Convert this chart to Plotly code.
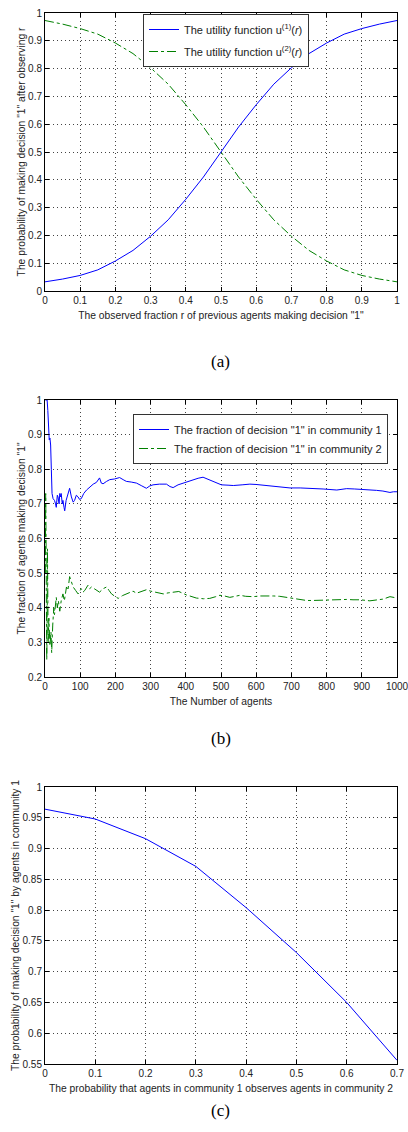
import plotly.graph_objects as go

W, H = 408, 1132

# (a) utility functions
r_vals = [0.0, 0.05, 0.1, 0.15, 0.2, 0.25, 0.3, 0.35, 0.4, 0.45, 0.5,
          0.55, 0.6, 0.65, 0.7, 0.75, 0.8, 0.85, 0.9, 0.95, 1.0]
u1_vals = [0.033, 0.043, 0.056, 0.076, 0.108, 0.146, 0.197, 0.256, 0.33, 0.41, 0.5,
           0.59, 0.67, 0.744, 0.803, 0.854, 0.892, 0.924, 0.944, 0.96, 0.973]
u2_vals = [0.973, 0.96, 0.944, 0.924, 0.892, 0.854, 0.803, 0.744, 0.67, 0.59, 0.5,
           0.41, 0.33, 0.256, 0.197, 0.146, 0.108, 0.076, 0.056, 0.043, 0.033]
ticks_a_x = [0, 0.1, 0.2, 0.3, 0.4, 0.5, 0.6, 0.7, 0.8, 0.9, 1]
ticks_a_y = [0, 0.1, 0.2, 0.3, 0.4, 0.5, 0.6, 0.7, 0.8, 0.9, 1]

# (b) running fraction of decision "1"
n1_agents = [1, 3, 6, 8, 10, 12, 14, 16, 18, 20, 23, 27, 30, 32, 35, 37, 40, 42, 44, 46,
             49, 51, 54, 56, 60, 65, 70, 75, 80, 84, 89, 94, 98, 103, 110, 118, 128,
             137, 146, 155, 160, 165, 175, 184, 198, 212, 222, 231, 245, 260, 275,
             288, 298, 307, 325, 345, 355, 364, 378, 392, 407, 421, 435, 449, 465,
             478, 490, 501, 520, 535, 560, 582, 600, 620, 640, 658, 680, 696, 725,
             753, 790, 829, 845, 857, 880, 904, 925, 942, 960, 980, 990, 1000]
frac1_vals = [1.0, 1.0, 1.0, 0.97, 0.9, 0.885, 0.89, 0.87, 0.8, 0.73, 0.715, 0.71, 0.7,
              0.69, 0.725, 0.72, 0.7, 0.73, 0.72, 0.73, 0.7, 0.71, 0.69, 0.68, 0.71,
              0.73, 0.745, 0.72, 0.705, 0.71, 0.725, 0.72, 0.713, 0.715, 0.73, 0.74,
              0.75, 0.757, 0.762, 0.775, 0.76, 0.758, 0.765, 0.77, 0.772, 0.776, 0.77,
              0.765, 0.763, 0.76, 0.752, 0.745, 0.752, 0.755, 0.757, 0.757, 0.75,
              0.747, 0.755, 0.76, 0.765, 0.77, 0.774, 0.777, 0.77, 0.765, 0.758,
              0.755, 0.754, 0.753, 0.755, 0.757, 0.756, 0.754, 0.751, 0.748, 0.747,
              0.746, 0.746, 0.745, 0.743, 0.74, 0.742, 0.744, 0.743, 0.742, 0.741,
              0.739, 0.737, 0.733, 0.735, 0.735]

n2_agents = [1, 2, 3, 4, 5, 6, 7, 9, 11, 14, 17, 19, 22, 25, 27, 30, 32, 35, 38, 42, 46,
             51, 55, 61, 65, 70, 75, 80, 87, 94, 103, 108, 113, 118, 122, 127, 132,
             140, 146, 155, 165, 175, 182, 189, 200, 208, 220, 231, 240, 250, 260,
             269, 280, 288, 300, 317, 336, 350, 364, 380, 402, 415, 430, 450, 468,
             485, 497, 510, 525, 540, 554, 570, 592, 610, 629, 650, 667, 685, 705,
             725, 743, 760, 781, 800, 819, 840, 857, 875, 895, 923, 940, 961, 980, 1000]
frac2_vals = [0.5, 0.73, 0.6, 0.4, 0.25, 0.33, 0.57, 0.3, 0.37, 0.29, 0.33, 0.27, 0.35,
              0.4, 0.38, 0.41, 0.43, 0.4, 0.42, 0.39, 0.42, 0.44, 0.42, 0.46, 0.45,
              0.49, 0.475, 0.46, 0.45, 0.44, 0.455, 0.445, 0.45, 0.46, 0.465, 0.455,
              0.46, 0.455, 0.45, 0.445, 0.455, 0.46, 0.45, 0.44, 0.432, 0.427, 0.435,
              0.44, 0.443, 0.448, 0.442, 0.445, 0.45, 0.452, 0.448, 0.445, 0.44,
              0.443, 0.445, 0.447, 0.437, 0.433, 0.428, 0.426, 0.427, 0.432, 0.436,
              0.434, 0.43, 0.433, 0.436, 0.433, 0.432, 0.434, 0.435, 0.434, 0.433,
              0.43, 0.427, 0.423, 0.421, 0.421, 0.422, 0.422, 0.423, 0.424, 0.424,
              0.423, 0.423, 0.42, 0.422, 0.425, 0.432, 0.428]
ticks_b_x = [0, 100, 200, 300, 400, 500, 600, 700, 800, 900, 1000]
ticks_b_y = [0.2, 0.3, 0.4, 0.5, 0.6, 0.7, 0.8, 0.9, 1]

# (c) probability vs observation probability
p_obs = [0.0, 0.1, 0.2, 0.3, 0.4, 0.5, 0.6, 0.7]
p_dec1 = [0.964, 0.948, 0.916, 0.871, 0.804, 0.731, 0.65, 0.556]
ticks_c_x = [0, 0.1, 0.2, 0.3, 0.4, 0.5, 0.6, 0.7]
ticks_c_y = [0.55, 0.6, 0.65, 0.7, 0.75, 0.8, 0.85, 0.9, 0.95, 1]

BLUE = "#0000ff"
GREEN = "#008000"
SANS = "Liberation Sans, Arial, sans-serif"
SERIF = "Liberation Serif, Times New Roman, serif"

fig = go.Figure()

fig.add_trace(go.Scatter(x=r_vals, y=u1_vals, mode="lines",
                         line=dict(color=BLUE, width=1),
                         name="The utility function u<sup>(1)</sup>(<i>r</i>)",
                         xaxis="x", yaxis="y", legend="legend", legendgroup="a1"))
fig.add_trace(go.Scatter(x=r_vals, y=u2_vals, mode="lines",
                         line=dict(color=GREEN, width=1, dash="dashdot"),
                         name="The utility function u<sup>(2)</sup>(<i>r</i>)",
                         xaxis="x", yaxis="y", legend="legend", legendgroup="a2"))

fig.add_trace(go.Scatter(x=n1_agents, y=frac1_vals, mode="lines",
                         line=dict(color=BLUE, width=1),
                         name='The fraction of decision "1" in community 1',
                         xaxis="x2", yaxis="y2", legend="legend2"))
fig.add_trace(go.Scatter(x=n2_agents, y=frac2_vals, mode="lines",
                         line=dict(color=GREEN, width=1, dash="dashdot"),
                         name='The fraction of decision "1" in community 2',
                         xaxis="x2", yaxis="y2", legend="legend2"))

fig.add_trace(go.Scatter(x=p_obs, y=p_dec1, mode="lines",
                         line=dict(color=BLUE, width=1),
                         showlegend=False, xaxis="x3", yaxis="y3"))


def ydom(top_px, bot_px):
    return [1 - bot_px / H, 1 - top_px / H]


xdom = [45 / W, 397 / W]

axis_common = dict(
    showline=True, linecolor="black", linewidth=1, mirror="ticks",
    ticks="inside", ticklen=4, tickcolor="black",
    showgrid=True, gridcolor="#444", griddash="1px,3px", gridwidth=1,
    zeroline=False, tickfont=dict(family=SANS, size=10, color="#222"),
    title_font=dict(family=SANS, size=10.3, color="#222"),
    automargin=False, ticklabeloverflow="allow", tickmode="array",
)


def xax(dom_anchor, rng, tv, title):
    return dict(domain=xdom, anchor=dom_anchor, range=rng, tickvals=tv,
                ticktext=[f"{v:g}" for v in tv],
                title=dict(text=title, standoff=6), **axis_common)


def yax(dom, anchor, rng, tv, title):
    return dict(domain=dom, anchor=anchor, range=rng, tickvals=tv,
                ticktext=[f"{v:g}" for v in tv],
                title=dict(text=title, standoff=0), **axis_common)


fig.update_layout(
    width=W, height=H,
    margin=dict(l=0, r=0, t=0, b=0),
    paper_bgcolor="white", plot_bgcolor="white",
    xaxis=xax("y", [0, 1], ticks_a_x,
              'The observed fraction r of previous agents making decision "1"'),
    yaxis=yax(ydom(13, 291), "x", [0, 1], ticks_a_y,
              'The probability of making decision "1" after observing r'),
    xaxis2=xax("y2", [0, 1000], ticks_b_x, "The Number of agents"),
    yaxis2=yax(ydom(400, 677), "x2", [0.2, 1], ticks_b_y,
               'The fraction of agents making decision "1"'),
    xaxis3=xax("y3", [0, 0.7], ticks_c_x,
               "The probability that agents in community 1 observes agents in community 2"),
    yaxis3=yax(ydom(787, 1064), "x3", [0.55, 1], ticks_c_y,
               'The probability of making decision "1" by agents in community 1'),
    legend=dict(x=143 / W, y=1 - 14 / H, xanchor="left", yanchor="top",
                bgcolor="white", bordercolor="#333", borderwidth=1,
                font=dict(family=SANS, size=11, color="#222"),
                tracegroupgap=3, itemwidth=30),
    legend2=dict(x=133 / W, y=1 - 414 / H, xanchor="left", yanchor="top",
                 bgcolor="white", bordercolor="#333", borderwidth=1,
                 font=dict(family=SANS, size=11, color="#222"),
                 tracegroupgap=0, itemwidth=30),
    showlegend=True,
)

for label, ypx in [("(a)", 350), ("(b)", 738), ("(c)", 1122)]:
    fig.add_annotation(text=label, xref="paper", yref="paper",
                       x=221 / W, y=1 - ypx / H, showarrow=False,
                       font=dict(family=SERIF, size=17, color="black"))

# drop the default body margin so the figure sits at the window's top-left corner
fig.write_html("out.html", config={"displayModeBar": False},
               post_script="document.body.style.margin='0px';")
